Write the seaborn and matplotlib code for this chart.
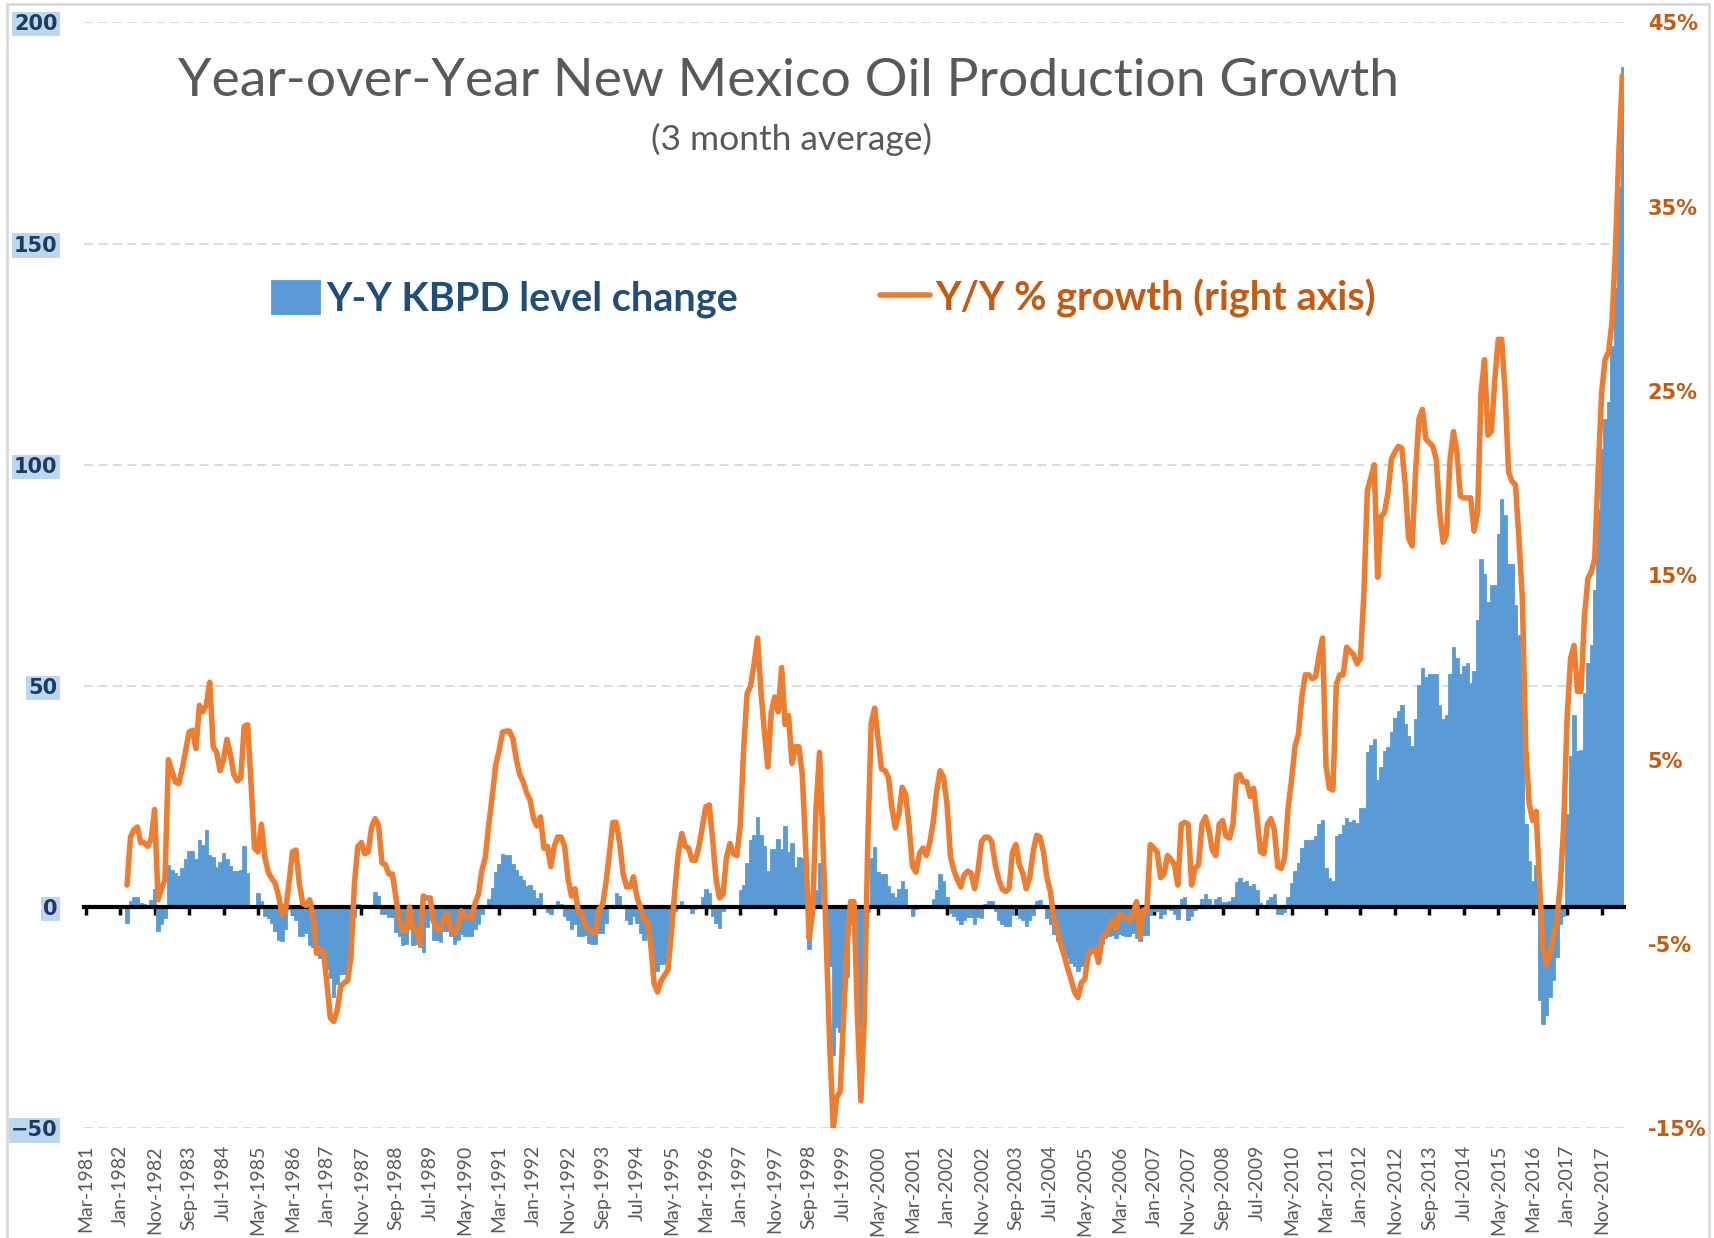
import numpy as np
import pandas as pd
import matplotlib
matplotlib.use("Agg")
import matplotlib.pyplot as plt
import matplotlib.ticker as mticker
from matplotlib.patches import Rectangle
import seaborn as sns

# monthly values, Mar-1982 .. May-2018 (12 per row)
kbpd_change = [
    -3.6, 1.3, 2.3, 2.3, 0.9, 0.8, 0.4, 1.7, 4.1, -5.4, -3.9, -2.5,
    9.6, 8.3, 7.7, 7.1, 8.9, 10.9, 12.8, 12.6, 10.9, 15.3, 14.1, 17.4,
    11.9, 11.4, 9.0, 10.3, 12.3, 10.9, 9.2, 8.1, 8.1, 8.5, 13.9, 7.7,
    0.0, 0.0, 3.3, 1.5, -1.9, -2.5, -3.6, -5.3, -7.4, -7.7, -4.9, -0.4,
    -1.5, -2.9, -6.4, -6.4, -5.9, -8.6, -9.0, -10.0, -11.5, -12.5, -14.0, -16.0,
    -20.3, -17.3, -15.0, -15.0, -14.3, -9.4, -2.3, 0.75, 0.6, 0.0, 0.0, 0.0,
    3.5, 2.6, -1.5, -1.5, -2.3, -2.3, -5.6, -6.4, -8.6, -8.3, -4.9, -8.6,
    -8.3, -9.0, -10.2, -4.5, -3.0, -7.5, -7.5, -7.9, -5.3, -5.3, -6.4, -8.3,
    -7.5, -6.0, -6.6, -6.4, -6.6, -4.9, -3.8, -1.5, 0.0, 1.9, 4.4, 8.0,
    9.8, 12.0, 11.9, 11.9, 9.8, 8.3, 7.1, 6.2, 4.9, 5.0, 4.0, 2.0,
    3.2, 0.0, -1.0, -1.5, 0.5, 1.4, 0.8, -2.0, -3.0, -5.0, -3.9, -6.5,
    -6.5, -6.2, -8.0, -8.4, -8.3, -5.8, -5.8, -3.5, 0.0, 0.0, 3.2, 2.5,
    0.0, -2.8, -3.9, -2.0, -3.5, -5.8, -7.5, -6.2, -9.9, -14.4, -14.4, -12.9,
    -12.9, -9.9, -2.0, -0.9, 0.0, 1.4, 0.0, 0.0, -1.3, -0.5, 0.5, 2.3,
    4.2, 3.2, -2.0, -3.5, -4.7, -0.9, 0.0, 0.5, 0.0, 0.0, 3.8, 5.0,
    10.0, 15.2, 16.4, 20.3, 16.4, 13.9, 8.2, 13.1, 13.1, 15.4, 13.1, 18.3,
    12.5, 14.6, 9.0, 11.3, 11.1, 4.7, -9.5, -2.0, 4.0, 10.0, 0.0, -4.8,
    -13.4, -33.3, -27.0, -28.2, -22.7, -15.7, -4.0, -5.6, -20.4, -27.0, -14.2, -1.0,
    11.1, 13.5, 8.0, 7.6, 7.4, 4.7, 3.1, 2.2, 4.1, 5.9, 4.1, 0.5,
    -2.1, -0.5, 0.0, 0.0, 0.0, 0.0, 1.8, 3.9, 7.6, 5.9, 2.3, -1.3,
    -2.1, -3.0, -3.8, -2.8, -2.3, -2.3, -3.8, -2.3, -2.4, 0.75, 1.35, 1.35,
    -0.9, -2.8, -3.8, -4.3, -4.3, -1.65, 0.6, -2.4, -2.8, -4.3, -2.8, -1.65,
    1.35, 1.7, 0.0, -2.4, -3.9, -6.0, -7.7, -9.0, -9.9, -11.4, -12.6, -13.3,
    -14.4, -13.3, -12.6, -10.7, -10.3, -9.5, -9.2, -8.4, -6.9, -6.5, -6.2, -6.9,
    -6.0, -6.2, -6.4, -6.5, -5.8, -6.9, -7.7, -6.2, -6.2, -1.65, -0.9, -0.9,
    -2.4, -1.5, -0.4, -0.7, -1.6, -2.6, 1.9, 2.2, -2.8, -2.0, -0.7, 0.0,
    1.9, 3.0, 1.9, 0.0, 1.9, 2.2, 1.2, 1.2, 1.5, 2.3, 5.8, 6.6,
    5.8, 6.0, 4.7, 5.2, 3.8, 1.0, 0.0, 1.7, 2.3, 2.9, -1.6, -1.6,
    -1.0, 2.2, 5.5, 8.1, 9.9, 13.3, 15.3, 15.3, 15.3, 16.0, 18.7, 19.6,
    8.8, 6.6, 6.0, 16.0, 16.6, 18.5, 20.2, 19.3, 19.6, 19.0, 22.5, 22.5,
    35.1, 36.6, 38.0, 28.7, 31.7, 35.3, 36.3, 39.5, 42.8, 44.3, 45.8, 41.3,
    38.6, 36.5, 42.5, 50.3, 54.1, 52.1, 52.6, 52.6, 52.6, 45.8, 42.5, 43.5,
    52.6, 58.9, 56.3, 52.6, 54.5, 55.1, 50.6, 53.3, 64.9, 78.8, 75.4, 68.9,
    72.8, 72.8, 84.4, 92.3, 88.6, 77.6, 77.6, 68.3, 61.6, 51.1, 18.8, 10.5,
    6.0, 9.5, -21.0, -26.3, -24.3, -20.3, -16.5, -11.3, -3.8, -2.0, 21.0, 34.1,
    43.5, 35.3, 35.6, 48.5, 55.1, 59.3, 71.6, 90.1, 103.6, 110.4, 114.1, 126.9,
    140.0, 163.0, 190.0,
]

pct_growth = [
    -1.8, 0.8, 1.2, 1.35, 0.5, 0.5, 0.3, 0.7, 2.3, -2.6, -2.0, -1.5,
    5.0, 4.4, 3.8, 3.7, 4.5, 5.5, 6.5, 6.6, 5.6, 7.95, 7.6, 7.95,
    9.2, 5.7, 5.4, 4.4, 5.0, 6.1, 5.3, 4.2, 3.85, 4.0, 6.8, 6.9,
    3.7, 0.2, 0.0, 1.5, -0.3, -1.1, -1.45, -1.7, -2.4, -3.4, -3.2, -1.7,
    0.0, 0.1, -1.7, -2.8, -2.9, -2.6, -3.5, -5.5, -5.3, -5.4, -7.1, -9.0,
    -9.2, -8.6, -7.3, -7.1, -7.0, -5.7, -1.7, 0.3, 0.5, -0.1, 0.0, 1.35,
    1.8, 1.45, -0.6, -0.7, -1.2, -1.2, -2.4, -3.7, -4.25, -4.3, -3.0, -4.1,
    -4.25, -5.0, -2.4, -2.5, -2.5, -3.8, -4.2, -4.25, -3.5, -3.35, -4.2, -4.4,
    -4.1, -3.2, -3.5, -3.5, -3.6, -2.8, -2.3, -1.0, -0.3, 1.5, 3.0, 4.7,
    5.5, 6.5, 6.55, 6.55, 6.15, 5.0, 4.2, 3.8, 3.2, 2.8, 1.8, 1.4,
    1.9, 0.2, 0.3, -0.8, 0.3, 0.8, 0.8, 0.3, -1.45, -2.4, -2.0, -3.25,
    -3.35, -4.0, -4.2, -4.35, -4.35, -3.1, -2.9, -1.7, -0.1, 1.6, 1.6, 0.45,
    -1.2, -1.9, -1.9, -1.35, -2.45, -3.0, -3.7, -3.7, -5.0, -7.15, -7.6, -7.0,
    -6.7, -6.4, -4.4, -2.1, -0.1, 1.0, 0.3, 0.2, -0.45, -0.45, 0.3, 1.35,
    2.45, 2.55, 0.6, -1.55, -2.5, -2.3, -0.3, 0.45, -0.1, -0.2, 1.5, 5.7,
    8.6, 9.0, 10.2, 11.6, 8.7, 6.5, 4.6, 7.6, 8.4, 7.6, 10.0, 6.9,
    7.4, 4.8, 5.7, 5.7, 4.2, 0.1, -4.7, -3.2, 2.4, 5.4, 0.5, -5.1,
    -10.7, -15.0, -13.3, -13.0, -8.9, -5.1, -2.7, -2.7, -8.9, -13.5, -8.9, 0.5,
    7.0, 7.8, 6.1, 4.5, 4.4, 4.05, 2.4, 1.3, 2.0, 3.5, 3.1, 1.4,
    -0.8, -1.1, -0.1, 0.2, -0.2, 0.5, 1.6, 3.3, 4.4, 4.05, 2.6, -0.25,
    -1.0, -1.5, -1.9, -1.25, -1.05, -1.15, -2.0, -1.0, 0.55, 0.8, 0.8, 0.55,
    -0.7, -1.5, -2.0, -2.15, -2.0, 0.0, 0.4, -0.7, -1.15, -2.0, -1.4, 0.0,
    0.9, 0.8, 0.0, -1.4, -2.15, -3.6, -4.3, -5.0, -5.6, -6.3, -6.9, -7.6,
    -7.9, -7.1, -6.9, -5.6, -5.3, -5.3, -6.0, -4.7, -4.5, -4.15, -3.7, -4.15,
    -3.4, -3.5, -3.6, -3.7, -3.4, -2.7, -4.6, -3.15, -3.2, 0.4, 0.2, 0.0,
    -1.4, -1.2, -0.2, -0.4, -0.7, -1.8, 1.5, 1.6, 1.5, -1.8, -0.9, -0.7,
    1.5, 1.9, 1.2, 0.1, -0.2, 1.5, 1.7, 0.85, 0.75, 1.5, 4.1, 4.2,
    3.8, 3.8, 3.0, 3.45, 1.8, 0.0, -0.1, 1.5, 1.8, 1.2, -0.8, -0.9,
    -0.3, 2.4, 3.9, 5.7, 6.4, 8.4, 9.6, 9.6, 9.4, 9.5, 10.7, 11.6,
    4.7, 3.45, 3.35, 9.1, 9.6, 9.6, 11.1, 10.9, 10.7, 10.2, 10.5, 14.0,
    19.6, 20.3, 21.0, 14.9, 18.2, 18.4, 19.5, 21.3, 21.7, 22.0, 21.9, 19.9,
    17.0, 16.6, 20.6, 23.5, 24.0, 22.4, 22.2, 22.0, 21.3, 18.4, 16.8, 17.2,
    21.3, 22.8, 21.7, 19.3, 19.2, 19.2, 19.2, 17.4, 18.4, 24.9, 26.7, 22.6,
    22.8, 25.6, 27.8, 27.8, 24.9, 20.6, 20.1, 19.9, 17.0, 13.7, 5.5, 2.6,
    1.7, 2.2, -1.8, -5.2, -6.1, -5.5, -4.6, -3.75, -1.8, 1.5, 7.3, 10.5,
    11.2, 8.7, 8.7, 12.7, 14.8, 15.2, 15.9, 20.6, 24.9, 26.7, 27.1, 28.7,
    32.5, 37.9, 42.1,
]

left_ticks = [-50, 0, 50, 100, 150, 200]
right_ticks = [-15, -5, 5, 15, 25, 35, 45]

BLUE = "#5B9BD5"
ORANGE = "#ED7D31"

sns.set_theme(style="white")
plt.rcParams["font.family"] = ["Lato", "DejaVu Sans"]

# category axis starts one year before the data (Mar-1981)
months = pd.date_range("1982-03-01", periods=len(kbpd_change), freq="MS")
axis_months = pd.date_range("1981-03-01", months[-1], freq="MS")
df = pd.DataFrame({
    "pos": (months.year - 1981) * 12 + months.month - 3,
    "kbpd": kbpd_change,
    "pct": pct_growth,
})

fig = plt.figure(figsize=(17.14, 12.38), dpi=100)
ax = fig.add_axes([0.049, 0.0885, 0.8985, 0.8935])

sns.barplot(data=df, x="pos", y="kbpd", native_scale=True, width=1.0,
            color=BLUE, saturation=1, errorbar=None, edgecolor=BLUE,
            linewidth=0.6, ax=ax)

ax2 = ax.twinx()
sns.lineplot(data=df, x="pos", y="pct", color=ORANGE, lw=4.0, ax=ax2)

ax.set_xlim(-0.5, len(axis_months) - 0.5)
ax.set_ylim(-50, 200)
ax.set_yticks(left_ticks)
ax2.set_ylim(-15, 45)
ax2.set_yticks(right_ticks)
ax2.yaxis.set_major_formatter(mticker.FuncFormatter(lambda v, p: f"{v:.0f}%"))
ax.set_xlabel("")
ax.set_ylabel("")
ax2.set_xlabel("")
ax2.set_ylabel("")

for s in ["left", "right", "top"]:
    ax.spines[s].set_visible(False)
for s in ax2.spines.values():
    s.set_visible(False)

# zero line with tick marks
ax.spines["bottom"].set_position(("data", 0))
ax.spines["bottom"].set_color("black")
ax.spines["bottom"].set_linewidth(3)
tick_pos = np.arange(0, len(axis_months), 10)
ax.set_xticks(tick_pos)
ax.tick_params(axis="x", length=6, width=2.5, color="black", direction="out",
               labelbottom=False, bottom=True)

# month labels along the bottom edge
sec = ax.secondary_xaxis("bottom")
sec.set_xticks(tick_pos, [axis_months[i].strftime("%b-%Y") for i in tick_pos])
sec.tick_params(length=0, pad=12, rotation=90, labelsize=14, labelcolor="#595959")
sec.spines["bottom"].set_visible(False)

ax.yaxis.grid(True, color="#D9D9D9", linestyle=(0, (5, 3)), lw=1.3)
ax.set_axisbelow(True)

ax.tick_params(axis="y", length=0, pad=19, labelsize=15, labelcolor="#1F3864")
for lbl in ax.get_yticklabels():
    lbl.set_family("DejaVu Sans")
    lbl.set_fontweight("bold")
    lbl.set_bbox(dict(facecolor="#BDD7EE", edgecolor="none", pad=1.5))

ax2.tick_params(axis="y", length=0, pad=17, labelsize=15, labelcolor="#C55A11")
for lbl in ax2.get_yticklabels():
    lbl.set_family("DejaVu Sans")
    lbl.set_fontweight("bold")

fig.text(0.46, 0.934, "Year-over-Year New Mexico Oil Production Growth",
         ha="center", va="center", fontsize=38.5, color="#595959")
fig.text(0.4616, 0.887, "(3 month average)", ha="center", va="center",
         fontsize=25.5, color="#595959")

fig.legend(handles=[ax.containers[0], ax2.lines[0]],
           labels=["Y-Y KBPD level change", "Y/Y % growth (right axis)"],
           loc="center", bbox_to_anchor=(0.4805, 0.759), ncol=2, frameon=False,
           prop={"weight": "bold", "size": 28.5},
           labelcolor=["#1F4E79", "#C55A11"],
           handlelength=1.25, handleheight=0.95, handletextpad=0.15,
           columnspacing=3.6)

fig.patches.append(Rectangle((0.004, -0.01), 0.993, 1.007, transform=fig.transFigure,
                             fill=False, edgecolor="#D9D9D9", lw=2))

fig.savefig("out.png", dpi=100)
